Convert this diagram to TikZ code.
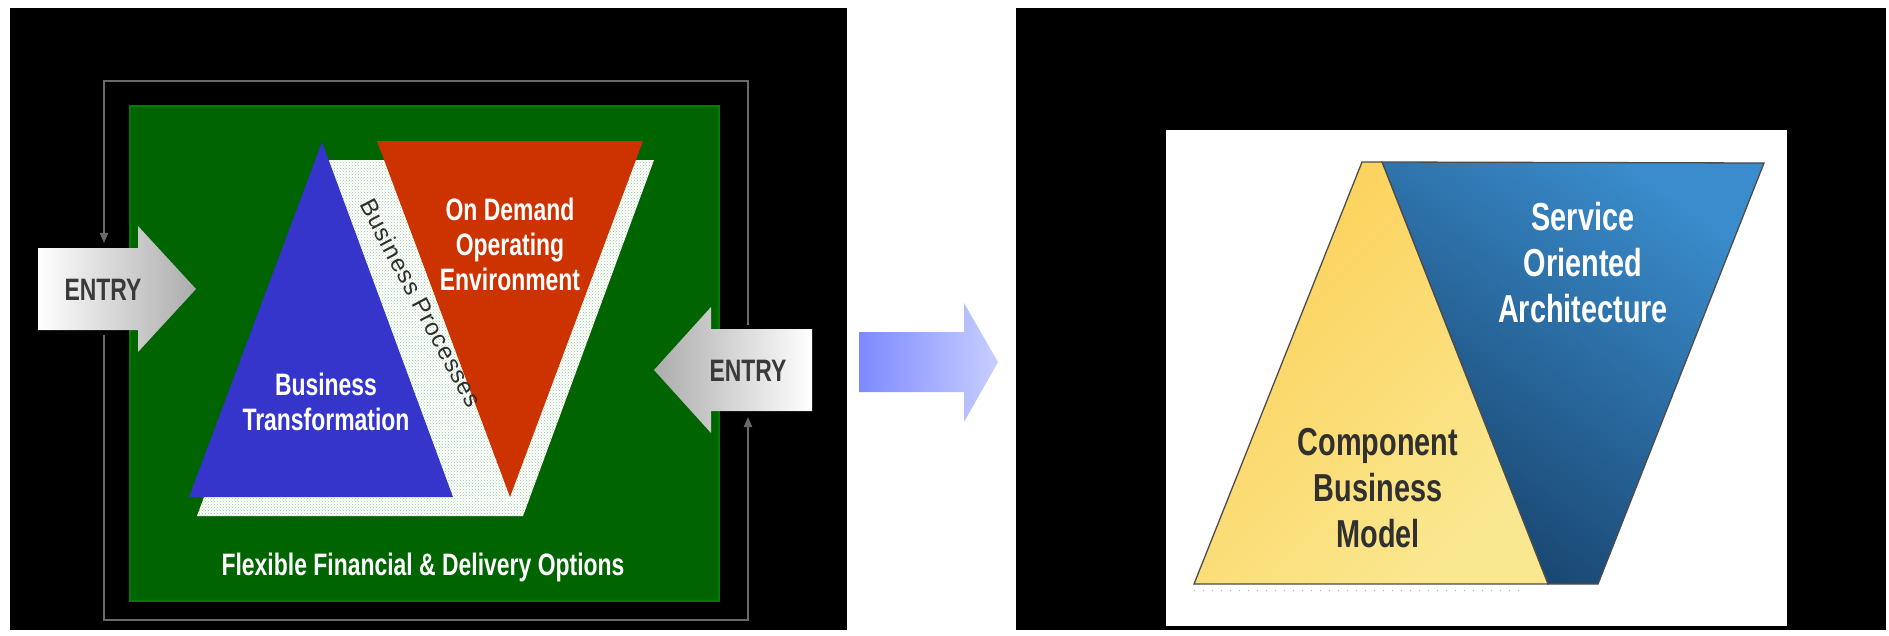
\documentclass[tikz,border=0pt]{standalone}
\usepackage{fontspec}
\setmainfont{Liberation Sans}
\newfontfamily\narrowsans{Liberation Sans}[FakeStretch=0.74]
\newfontfamily\spacedsans{Liberation Sans}[LetterSpace=4]
\usetikzlibrary{arrows.meta,patterns}

\definecolor{boardgreen}{RGB}{0,100,0}
\definecolor{boardedge}{RGB}{0,125,0}
\definecolor{btblue}{RGB}{53,53,204}
\definecolor{odred}{RGB}{204,51,0}
\definecolor{framegray}{RGB}{105,105,105}
\definecolor{entrytext}{RGB}{58,58,58}
\definecolor{entrygray}{RGB}{172,172,172}
\definecolor{flowleft}{RGB}{125,138,255}
\definecolor{flowright}{RGB}{200,207,255}
\definecolor{cbmdark}{RGB}{252,208,88}
\definecolor{cbmlight}{RGB}{250,232,145}
\definecolor{soadark}{RGB}{24,68,110}
\definecolor{soalight}{RGB}{58,140,204}
\definecolor{cbmtext}{RGB}{48,48,48}

\tikzset{
  frameline/.style={draw=framegray, line width=2.5pt},
  frametip/.style={-{Triangle[length=10pt,width=8pt]}},
  boardtext/.style={text=white, align=center, font=\narrowsans\bfseries\fontsize{31}{35}\selectfont},
  entrylabel/.style={text=entrytext, font=\narrowsans\bfseries\fontsize{31}{35}\selectfont},
  soatext/.style={align=center, font=\narrowsans\bfseries\fontsize{39}{46}\selectfont},
  outline/.style={draw=black!70, line width=1.3pt}
}

\begin{document}
\begin{tikzpicture}[x=1pt,y=-1pt]
  \useasboundingbox (0,0) rectangle (1889,635);
  \fill[black] (10,8) rectangle (847,630);
  \fill[black] (1016,8) rectangle (1886,630);

  \coordinate (F1) at (104,81);
  \coordinate (F2) at (748,620);
  \coordinate (FL1) at (104,243);
  \coordinate (FL2) at (104,335);
  \coordinate (FR1) at (748,417);
  \coordinate (FR2) at (748,325);
  \draw[frameline] (FR2) -- (F1 -| FR2) -- (F1) -- (104,235);
  \draw[frameline] (FL2) -- (F2 -| FL2) -- (F2) -- (748,425);
  \draw[draw=framegray, line width=2pt, frametip] (104,230) -- (FL1);
  \draw[draw=framegray, line width=2pt, frametip] (748,430) -- (FR1);

  \coordinate (G1) at (130,106);
  \coordinate (G2) at (719,601);
  \draw[fill=boardgreen, draw=boardedge, line width=1.5pt] (G1) rectangle (G2);

  \coordinate (T1) at (197,516);
  \coordinate (T2) at (523,516);
  \coordinate (T3) at (654,160);
  \coordinate (T4) at (329,160);
  \fill[white] (T1) -- (T2) -- (T3) -- (T4) -- cycle;
  \fill[pattern=crosshatch dots, pattern color=green!50!black!40] (T1) -- (T2) -- (T3) -- (T4) -- cycle;

  \coordinate (B1) at (322,142);
  \coordinate (B2) at (453,497);
  \coordinate (B3) at (189,497);
  \fill[btblue] (B1) -- (B2) -- (B3) -- cycle;

  \coordinate (R1) at (377,141);
  \coordinate (R2) at (643,141);
  \coordinate (R3) at (510,497);
  \fill[odred] (R1) -- (R2) -- (R3) -- cycle;

  \node[boardtext] (bt) at (326,402) {Business\\Transformation};
  \node[boardtext] (odoe) at (510,244) {On Demand\\Operating\\Environment};
  \node[rotate=-62, text=entrytext!80!black, font=\spacedsans\fontsize{24}{24}\selectfont] (bp) at (421,303) {Business Processes};
  \node[boardtext] (ffdo) at (423,567) {Flexible Financial \& Delivery Options};

  \shade[left color=white, right color=entrygray]
    (38,248) -- (138,248) -- (138,226) -- (196,289) -- (138,352) -- (138,330) -- (38,330) -- cycle;
  \node[entrylabel] (entryL) at (103,290) {ENTRY};
  \shade[left color=entrygray, right color=white]
    (812,329) -- (711,329) -- (711,307) -- (654,370) -- (711,433) -- (711,411) -- (812,411) -- cycle;
  \node[entrylabel] (entryR) at (748,371) {ENTRY};

  \shade[left color=flowleft, right color=flowright]
    (859,332) -- (964,332) -- (964,303) -- (998,362) -- (964,422) -- (964,392) -- (859,392) -- cycle;

  \fill[white] (1166,130) rectangle (1787,626);
  \shade[top color=soalight, bottom color=soadark, shading angle=-35, outline]
    (1382,162) -- (1764,163) -- (1598,584) -- (1548,584) -- cycle;
  \shade[top color=cbmdark, bottom color=cbmlight, shading angle=45, outline]
    (1362,162) -- (1382,162) -- (1548,584) -- (1194,584) -- cycle;
  \draw[blue!35, line width=1pt, dash pattern=on 1pt off 8pt] (1194,590) -- (1520,590);

  \node[soatext, text=white] (soa) at (1583,263) {Service\\Oriented\\Architecture};
  \node[soatext, text=cbmtext] (cbm) at (1378,488) {Component\\Business\\Model};
\end{tikzpicture}
\end{document}
